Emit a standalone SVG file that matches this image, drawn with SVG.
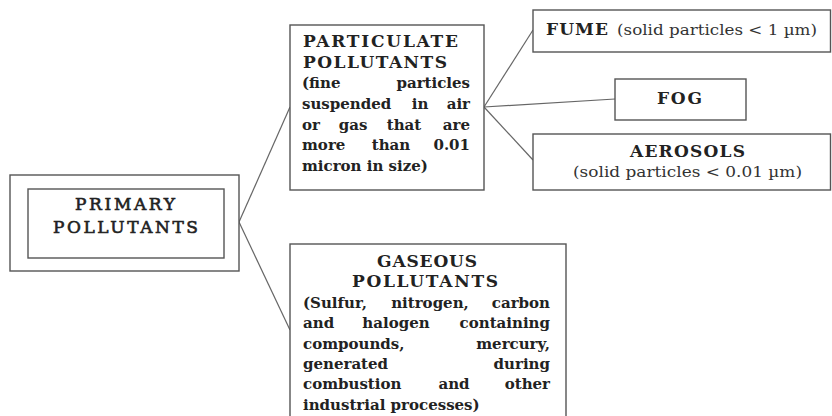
<svg xmlns="http://www.w3.org/2000/svg" width="832" height="416" viewBox="0 0 832 416">
<style>
.box{fill:#fff;stroke:#555;stroke-width:1.4}
.ln{fill:none;stroke:#666;stroke-width:1.2}
text{font-family:"DejaVu Serif","Liberation Serif",serif;fill:#222}
.b{font-weight:bold;font-size:15px}
.hd{font-weight:bold;font-size:17px}
.pr{font-weight:normal;font-size:17px;stroke:#222;stroke-width:0.6}
.r{font-weight:normal;font-size:15px;fill:#333}
.e{text-anchor:end}
.m{text-anchor:middle}
</style>
<rect width="832" height="416" fill="#fff"/>
<g id="connectors">
<path class="ln" d="M239,222 L290,107"/>
<path class="ln" d="M239,222 L290,330"/>
<path class="ln" d="M484,107 L533,30"/>
<path class="ln" d="M484,107 L615,99"/>
<path class="ln" d="M484,107 L533,160"/>
</g>
<g id="primary">
<rect class="box" x="10" y="175" width="229" height="96"/>
<rect class="box" x="28" y="189" width="196" height="69"/>
<text class="pr" x="75" y="210" textLength="100" lengthAdjust="spacing">PRIMARY</text>
<text class="pr" x="53" y="233" textLength="145" lengthAdjust="spacing">POLLUTANTS</text>
</g>
<g id="particulate">
<rect class="box" x="290" y="25" width="194" height="165"/>
<text class="hd" x="303" y="47" textLength="155" lengthAdjust="spacing">PARTICULATE</text>
<text class="hd" x="303" y="68" textLength="144" lengthAdjust="spacing">POLLUTANTS</text>
<text class="b" x="302" y="88">(fine</text><text class="b e" x="470" y="88">particles</text>
<text class="b" x="302" y="109">suspended</text><text class="b m" x="420" y="109">in</text><text class="b e" x="470" y="109">air</text>
<text class="b" x="302" y="130">or</text><text class="b m" x="353" y="130">gas</text><text class="b m" x="404" y="130">that</text><text class="b e" x="470" y="130">are</text>
<text class="b" x="302" y="150">more</text><text class="b m" x="391" y="150">than</text><text class="b e" x="470" y="150">0.01</text>
<text class="b" x="302" y="171">micron in size)</text>
</g>
<g id="gaseous">
<rect class="box" x="290" y="244" width="276" height="200"/>
<text class="hd m" x="427" y="267" textLength="100" lengthAdjust="spacing">GASEOUS</text>
<text class="hd m" x="425" y="287" textLength="146" lengthAdjust="spacing">POLLUTANTS</text>
<text class="b" x="303" y="308">(Sulfur,</text><text class="b m" x="430" y="308">nitrogen,</text><text class="b e" x="550" y="308">carbon</text>
<text class="b" x="303" y="328">and</text><text class="b m" x="396" y="328">halogen</text><text class="b e" x="550" y="328">containing</text>
<text class="b" x="303" y="349">compounds,</text><text class="b e" x="550" y="349">mercury,</text>
<text class="b" x="303" y="369">generated</text><text class="b e" x="550" y="369">during</text>
<text class="b" x="303" y="389">combustion</text><text class="b m" x="454" y="389">and</text><text class="b e" x="550" y="389">other</text>
<text class="b" x="303" y="410">industrial processes)</text>
</g>
<g id="fume">
<rect class="box" x="533" y="10" width="297.5" height="42"/>
<text class="b" x="546" y="35" textLength="62" lengthAdjust="spacing" style="font-size:17px">FUME</text>
<text class="r" x="617" y="35" textLength="200" lengthAdjust="spacingAndGlyphs">(solid particles &lt; 1 µm)</text>
</g>
<g id="fog">
<rect class="box" x="615" y="79" width="131" height="41"/>
<text class="b" x="657" y="104" textLength="45" lengthAdjust="spacing" style="font-size:17px">FOG</text>
</g>
<g id="aerosols">
<rect class="box" x="533" y="134" width="297.5" height="56"/>
<text class="b" x="630" y="157" textLength="115" lengthAdjust="spacing" style="font-size:17px">AEROSOLS</text>
<text class="r" x="573" y="177" textLength="229" lengthAdjust="spacingAndGlyphs">(solid particles &lt; 0.01 µm)</text>
</g>
</svg>
